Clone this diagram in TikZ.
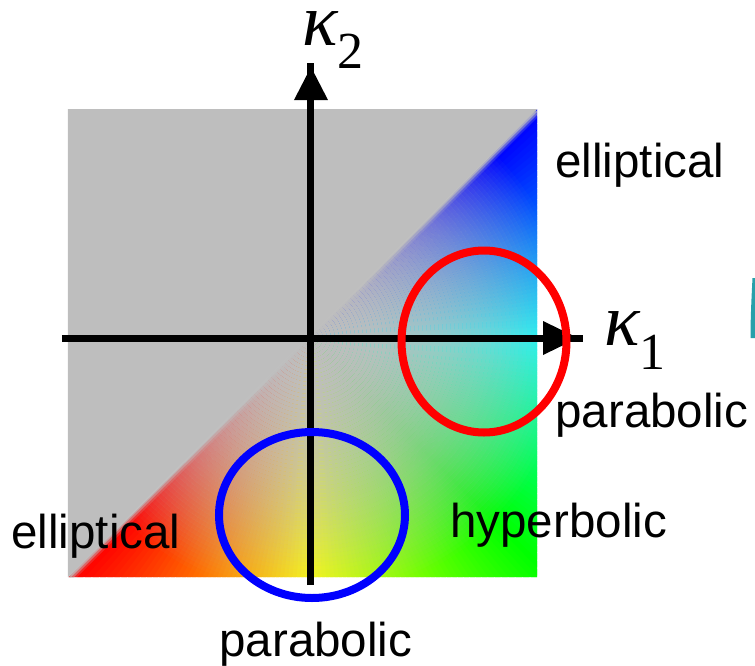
\documentclass[tikz,border=0pt]{standalone}
\usepackage{fontspec}
\setmainfont{Liberation Sans}
\newfontfamily\kapfont{Liberation Serif}
\definecolor{kgray}{RGB}{190,190,190}
\definecolor{kred}{RGB}{255,0,0}
\definecolor{kblue}{RGB}{0,0,255}
\definecolor{kteal}{RGB}{40,160,170}
\tikzset{
	axisline/.style={line width=3.5pt},
	ring/.style={line width=4pt},
	lbl/.style={inner sep=0pt, anchor=base west, font=\fontsize{23.75}{28}\selectfont},
	kap/.style={inner sep=0pt, anchor=base west, text height=16pt, font=\kapfont\fontsize{37}{40}\selectfont}
}

\begin{document}
\begin{tikzpicture}[x=0.5pt,y=0.5pt]
	\useasboundingbox (-311,-327) rectangle (444,338);
	
	% curvature colours: hue from the angle, gray towards the origin
	\begin{scope}
		\clip (-243,-239) -- (226,-239) -- (226,229) -- cycle;
		\foreach \a in {0,1,...,179}{
			\pgfmathsetmacro{\hue}{\a/270}
			\definecolor{wedge}{hsb}{\hue,1,1}
			\fill[wedge] (0,0) -- ({224.6+\a}:420) -- ({226.4+\a}:420) -- cycle;
		}
		% gray rings, opacity 1-(r/R)^2
		\foreach \i in {0,1,...,64}{
			\pgfmathsetmacro{\ra}{4*\i}
			\pgfmathsetmacro{\rb}{4*\i+4}
			\pgfmathsetmacro{\op}{1-((4*\i+2)/262)^2}
			\fill[kgray, opacity=\op, even odd rule] (0,0) circle (\rb) (0,0) circle (\ra);
		}
	\end{scope}
	
	% gray half above the diagonal, soft edge
	\begin{scope}
		\clip (-243,-239) rectangle (226,229);
		\foreach \d/\op in {4.5/0.2, 3/0.45, 1.5/0.75}{
			\fill[kgray, opacity=\op, shift={(\d,-\d)}] (-243,-239) -- (226,229) -- (-243,229) -- cycle;
		}
		\fill[kgray] (-243,-239) -- (226,229) -- (-243,229) -- cycle;
	\end{scope}
	
	% axes
	\draw[axisline] (-249,0) -- (272,0);
	\fill (232,17) -- (267,0) -- (232,-17) -- cycle;
	\draw[axisline] (0,-247) -- (0,275);
	\fill (-17,238) -- (0,271) -- (17,238) -- cycle;
	
	\node[kap] (kone) at (293,-7) {\itshape κ\upshape\raisebox{-12pt}{\fontsize{26}{28}\selectfont 1}};
	\node[kap] (ktwo) at (-9,293) {\itshape κ\upshape\raisebox{-12pt}{\fontsize{26}{28}\selectfont 2}};
	
	% regions
	\draw[ring, kred] (173,-3.5) ellipse [x radius=82.5, y radius=91];
	\draw[ring, kblue] (1,-177) ellipse [x radius=93, y radius=83];
	
	\node[lbl] (ellup) at (244,161) {elliptical};
	\node[lbl] (parright) at (244,-89) {parabolic};
	\node[lbl] (hyp) at (139,-199) {hyperbolic};
	\node[lbl] (elllow) at (-300,-210) {elliptical};
	\node[lbl] (parlow) at (-92,-318) {parabolic};
	
	% edge of the next picture
	\fill[kteal] (439.5,0) .. controls (439.5,20) and (440.5,40) .. (441.5,60) -- (444,60) -- (444,0) -- cycle;
\end{tikzpicture}
\end{document}
